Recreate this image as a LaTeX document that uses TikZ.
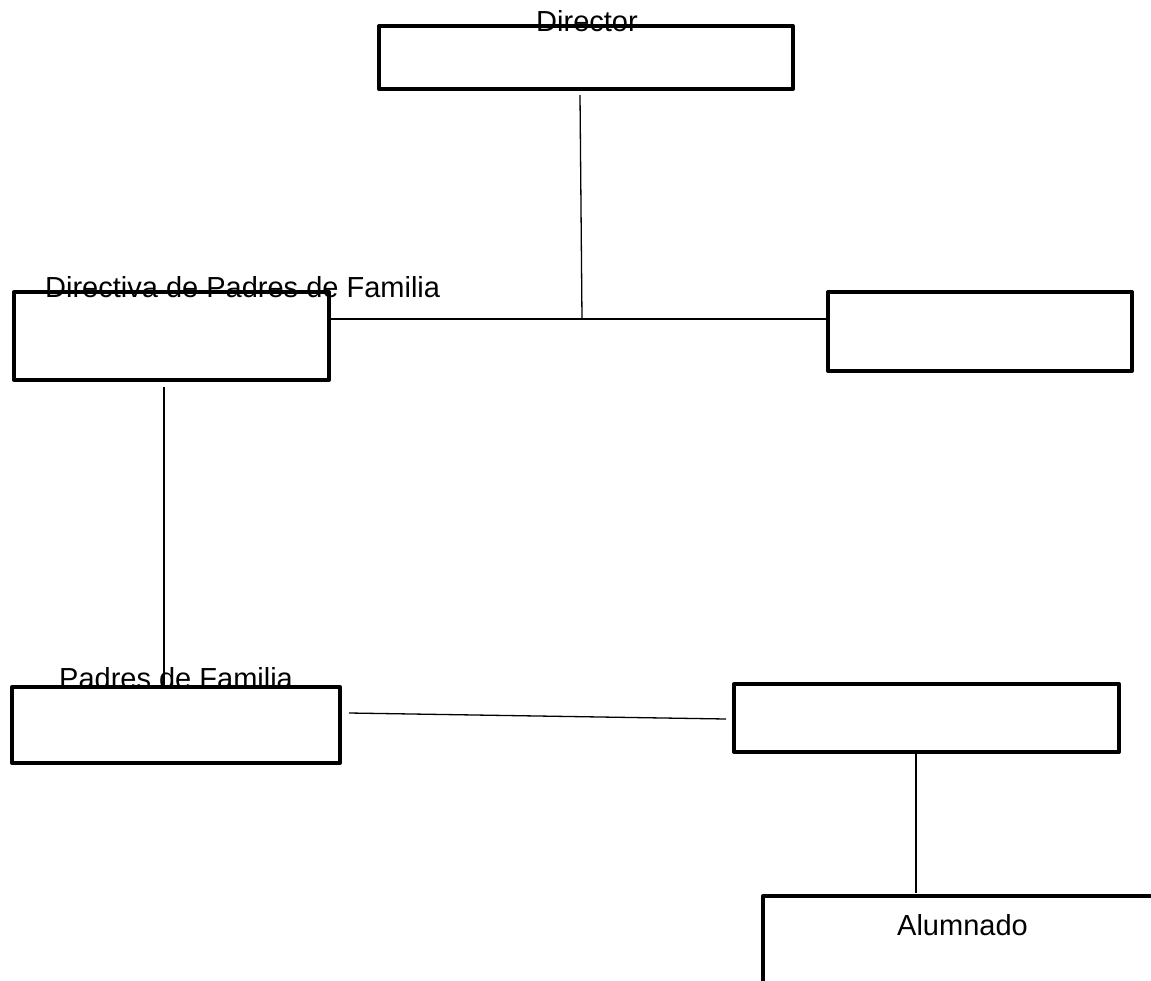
\documentclass[tikz,border=0pt]{standalone}
\usepackage{fontspec}
\setmainfont{Liberation Sans}
\begin{document}
\begin{tikzpicture}[x=1pt,y=-1pt,
  box/.style={draw=black,line width=4pt,line join=round,inner sep=0pt,fill=none},
  conn/.style={draw=black,line width=1.3pt},
  txt/.style={inner sep=0pt,font=\fontsize{29}{34}\selectfont}]
\useasboundingbox (0,0) rectangle (1151,980);
% boxes
\node[box,minimum width=414pt,minimum height=63pt] (dir) at (586,57.5) {};
\node[box,minimum width=315pt,minimum height=88pt] (dpf) at (171.5,336) {};
\node[box,minimum width=304pt,minimum height=79pt] (rt) at (980,331.5) {};
\node[box,minimum width=328pt,minimum height=76pt] (pf) at (176,725) {};
\node[box,minimum width=385pt,minimum height=68pt] (mid) at (926.5,718) {};
\node[box,minimum width=397pt,minimum height=94pt] (alu) at (961.5,943) {};
% texts
\node[txt,anchor=base] (dirt) at (587,31) {Director};
\node[txt,anchor=base west] (dpft) at (45,297) {Directiva de Padres de Familia};
\node[txt,anchor=base west] (pft) at (59,688) {Padres de Familia};
\node[txt,anchor=base west] (alut) at (897,935) {Alumnado};
% connectors
\coordinate (j) at (582,319);
\draw[conn] ([xshift=-6pt,yshift=-4pt]dir.south) -- (j);
\draw[conn] (dpf.east |- j) -- (j) -- (rt.west |- j);
\draw[conn] ([xshift=-7.5pt,yshift=-5pt]dpf.south) -- ([xshift=-12pt]pf.north);
\draw[conn] ([xshift=7pt,yshift=12pt]pf.east) -- ([xshift=-6pt,yshift=-1pt]mid.west);
\draw[conn] ([xshift=-10.5pt]mid.south) -- ([xshift=-45.5pt,yshift=1pt]alu.north);
\end{tikzpicture}
\end{document}
